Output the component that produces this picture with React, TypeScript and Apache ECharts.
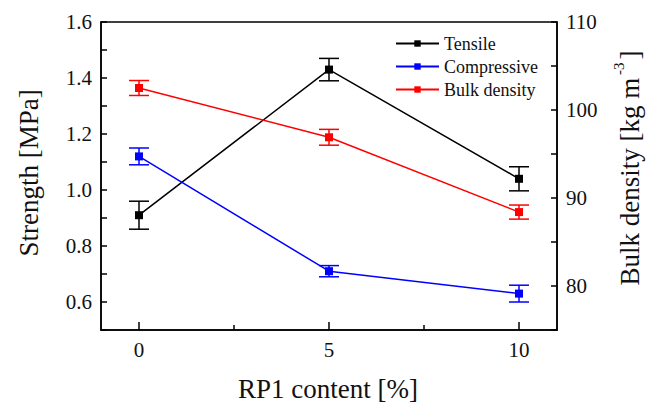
import React, { useEffect, useRef } from "react";
import * as echarts from "echarts";

const contents = [0, 5, 10];
const tensile = [0.91, 1.43, 1.04];
const tensileErr = [0.05, 0.04, 0.043];
const compressive = [1.12, 0.71, 0.63];
const compressiveErr = [0.03, 0.02, 0.03];
const bulkDensity = [102.5, 96.9, 88.4];
const bulkDensityErr = [0.85, 0.9, 0.8];

const xTickLabels = [0, 5, 10];
const xMinorTicks = [2.5, 7.5];
const leftTickLabels = [0.6, 0.8, 1.0, 1.2, 1.4, 1.6];
const leftTicks = [0.5, 0.6, 0.7, 0.8, 0.9, 1.0, 1.1, 1.2, 1.3, 1.4, 1.5, 1.6];
const rightTickLabels = [80, 90, 100, 110];
const rightTicks = [75, 80, 85, 90, 95, 100, 105, 110];

const FONT = "'Liberation Serif', 'Times New Roman', serif";
const BLACK = "#000000";
const BLUE = "#0000ff";
const RED = "#ff0000";

function pairs(vals: number[]) {
  return contents.map((c, i) => [c, vals[i]]);
}
function errPairs(vals: number[], errs: number[]) {
  return contents.map((c, i) => [c, vals[i] - errs[i], vals[i] + errs[i]]);
}

function errorSeries(name: string, color: string, data: number[][], yAxisIndex: number) {
  return {
    type: "custom",
    name,
    yAxisIndex,
    data,
    encode: { x: 0, y: [1, 2] },
    z: 1,
    renderItem: (_params: any, api: any) => {
      const x = api.value(0);
      const lo = api.value(1);
      const hi = api.value(2);
      const pLo = api.coord([x, lo]);
      const pHi = api.coord([x, hi]);
      const hw = 10;
      const style = { stroke: color, lineWidth: 1.5 };
      return {
        type: "group",
        children: [
          { type: "line", shape: { x1: pLo[0], y1: pLo[1], x2: pHi[0], y2: pHi[1] }, style },
          { type: "line", shape: { x1: pLo[0] - hw, y1: pLo[1], x2: pLo[0] + hw, y2: pLo[1] }, style },
          { type: "line", shape: { x1: pHi[0] - hw, y1: pHi[1], x2: pHi[0] + hw, y2: pHi[1] }, style },
        ],
      };
    },
  };
}

function lineSeries(name: string, color: string, data: number[][], yAxisIndex: number) {
  return {
    type: "line",
    name,
    yAxisIndex,
    data,
    symbol: "rect",
    symbolSize: 8,
    z: 3,
    itemStyle: { color },
    lineStyle: { color, width: 1.5 },
  };
}

export default function App() {
  const ref = useRef<HTMLDivElement>(null);
  useEffect(() => {
    if (!ref.current) return;
    const chart = echarts.init(ref.current, undefined, { renderer: "svg" });
    const axisLine = { show: true, onZero: false, lineStyle: { color: BLACK, width: 1.5 } };
    const labelStyle = { fontFamily: FONT, fontSize: 21, color: "#111", margin: 9 };
    chart.setOption({
      animation: false,
      backgroundColor: "#ffffff",
      textStyle: { fontFamily: FONT },
      grid: {
        left: 101,
        right: 89,
        top: 22,
        bottom: 73,
        show: true,
        borderColor: BLACK,
        borderWidth: 1.5,
        backgroundColor: "transparent",
      },
      legend: {
        left: 395,
        top: 33,
        orient: "vertical",
        padding: 0,
        itemGap: 2,
        itemWidth: 43,
        itemHeight: 8,
        data: ["Tensile", "Compressive", "Bulk density"],
        textStyle: { fontFamily: FONT, fontSize: 18, color: "#111", lineHeight: 21 },
      },
      xAxis: [
        {
          type: "value",
          min: -1,
          max: 11,
          position: "bottom",
          axisLine,
          splitLine: { show: false },
          axisTick: { show: true, inside: true, length: 8, customValues: xTickLabels, lineStyle: { color: BLACK, width: 1.5 } },
          axisLabel: { customValues: xTickLabels, ...labelStyle },
        },
        {
          type: "value",
          min: -1,
          max: 11,
          position: "bottom",
          axisLine: { show: false, onZero: false },
          splitLine: { show: false },
          axisTick: { show: true, inside: true, length: 5, customValues: xMinorTicks, lineStyle: { color: BLACK, width: 1.5 } },
          axisLabel: { show: false },
        },
      ],
      yAxis: [
        {
          type: "value",
          min: 0.5,
          max: 1.6,
          position: "left",
          axisLine,
          splitLine: { show: false },
          axisTick: { show: true, inside: true, length: 6, customValues: leftTicks, lineStyle: { color: BLACK, width: 1.5 } },
          axisLabel: {
            customValues: leftTickLabels,
            ...labelStyle,
            formatter: (v: number) => v.toFixed(1),
          },
        },
        {
          type: "value",
          min: 75,
          max: 110,
          position: "right",
          axisLine,
          splitLine: { show: false },
          axisTick: { show: true, inside: true, length: 6, customValues: rightTicks, lineStyle: { color: BLACK, width: 1.5 } },
          axisLabel: { customValues: rightTickLabels, ...labelStyle },
        },
      ],
      graphic: [
        {
          type: "text",
          x: 29,
          y: 173,
          rotation: Math.PI / 2,
          style: {
            text: "Strength [MPa]",
            fontFamily: FONT,
            fontSize: 27,
            fill: "#111",
            align: "center",
            verticalAlign: "middle",
          },
        },
        {
          type: "text",
          x: 328,
          y: 389,
          style: {
            text: "RP1 content [%]",
            fontFamily: FONT,
            fontSize: 27,
            fill: "#111",
            align: "center",
            verticalAlign: "middle",
          },
        },
        {
          type: "text",
          x: 627,
          y: 168,
          rotation: Math.PI / 2,
          style: {
            text: "{n|Bulk density [kg m}{s|-3}{n|]}",
            align: "center",
            verticalAlign: "middle",
            rich: {
              n: { fontFamily: FONT, fontSize: 27, fill: "#111", lineHeight: 32, verticalAlign: "bottom" },
              s: { fontFamily: FONT, fontSize: 15, fill: "#111", lineHeight: 32, verticalAlign: "top", padding: [0, 3, 0, 3] },
            },
          },
        },
      ],
      series: [
        errorSeries("TensileErr", BLACK, errPairs(tensile, tensileErr), 0),
        errorSeries("CompressiveErr", BLUE, errPairs(compressive, compressiveErr), 0),
        errorSeries("BulkErr", RED, errPairs(bulkDensity, bulkDensityErr), 1),
        lineSeries("Tensile", BLACK, pairs(tensile), 0),
        lineSeries("Compressive", BLUE, pairs(compressive), 0),
        lineSeries("Bulk density", RED, pairs(bulkDensity), 1),
      ],
    });
    return () => chart.dispose();
  }, []);
  return (
    <div
      ref={ref}
      style={{ position: "absolute", left: 0, top: 0, width: 646, height: 403, background: "#fff" }}
    />
  );
}
